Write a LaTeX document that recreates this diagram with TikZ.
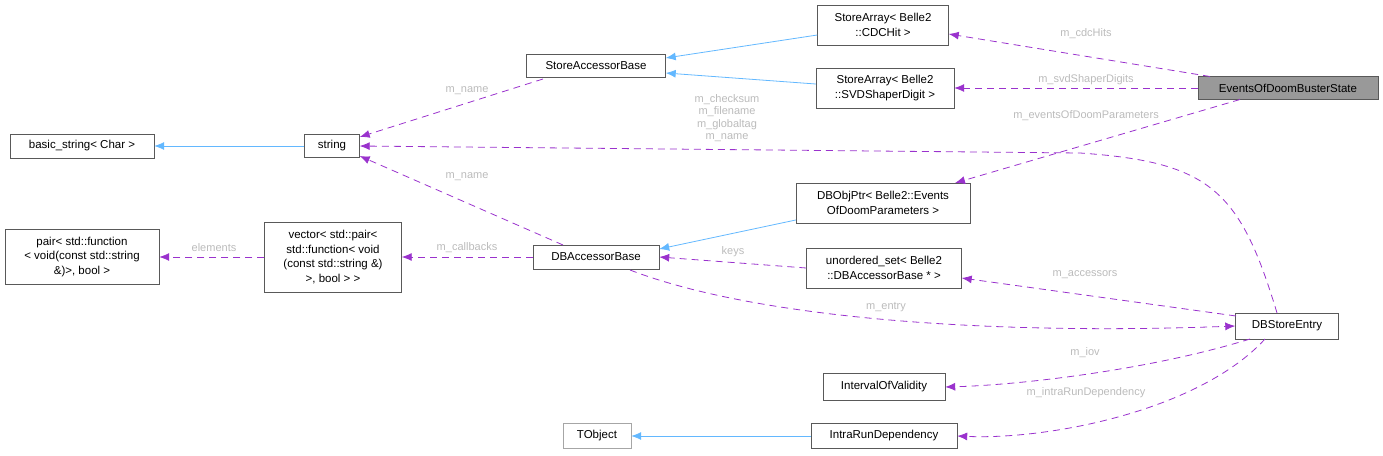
\documentclass[tikz,border=0pt]{standalone}
\usepackage{fontspec}
\setmainfont{Liberation Sans}
\usetikzlibrary{arrows.meta}
\definecolor{dep}{HTML}{9A32CD}
\definecolor{inh}{HTML}{63B8FF}
\definecolor{lbl}{HTML}{BBBBBB}
\begin{document}
\begin{tikzpicture}[x=1pt,y=-1pt,
  box/.style={draw=black!65,fill=white,inner sep=0pt,align=center,font=\fontsize{11.5}{14.5}\selectfont},
  dep/.style={draw=dep,dash pattern=on 7pt off 5pt,-{Latex[length=10pt,width=8pt]},line width=0.8pt},
  inh/.style={draw=inh,-{Latex[length=10pt,width=8pt]},line width=0.8pt},
  lab/.style={text=lbl,font=\fontsize{11}{12.5}\selectfont,inner sep=1pt,align=center}]
\useasboundingbox (0,0) rectangle (1383,455);
\node[box,minimum width=180,minimum height=23,fill=black!40] (ev) at (1288,88) {EventsOfDoomBusterState};
\node[box,minimum width=131,minimum height=40] (cdc) at (883,25) {StoreArray< Belle2\\::CDCHit >};
\node[box,minimum width=138,minimum height=40] (svd) at (885,88) {StoreArray< Belle2\\::SVDShaperDigit >};
\node[box,minimum width=139,minimum height=23] (sab) at (596,66) {StoreAccessorBase};
\node[box,minimum width=55,minimum height=23] (str) at (332,146) {string};
\node[box,minimum width=144,minimum height=24] (bs) at (82,146) {basic\_string< Char >};
\node[box,minimum width=174,minimum height=40] (dbo) at (883,203) {DBObjPtr< Belle2::Events\\OfDoomParameters >};
\node[box,minimum width=155,minimum height=40] (us) at (884,268) {unordered\_set< Belle2\\::DBAccessorBase * >};
\node[box,minimum width=126,minimum height=24] (dab) at (596,257) {DBAccessorBase};
\node[box,minimum width=137,minimum height=70] (vec) at (333,257) {vector< std::pair<\\std::function< void\\(const std::string \&)\\>, bool > >};
\node[box,minimum width=154,minimum height=55] (pair) at (82,257) {pair< std::function\\< void(const std::string\\\&)>, bool >};
\node[box,minimum width=103,minimum height=26] (dse) at (1287,326) {DBStoreEntry};
\node[box,minimum width=122,minimum height=27] (iov) at (884,387) {IntervalOfValidity};
\node[box,minimum width=146,minimum height=25] (ird) at (884,436) {IntraRunDependency};
\node[box,draw=black!35,minimum width=68,minimum height=25] (tob) at (597,436) {TObject};

\draw[inh] (cdc.west |- 0,35) -- (sab.east |- 0,58);
\draw[inh] (svd.west |- 0,84) -- (sab.east |- 0,73);
\draw[inh] (str) -- (bs);
\draw[inh] (dbo.west |- 0,220) -- (dab.east |- 0,249);
\draw[inh] (ird) -- (tob);

\coordinate (e1) at (1210,76.5);
\coordinate (e3) at (1240,99.5);
\coordinate (d3) at (955,183);
\draw[dep] (e1) -- (cdc.east |- 0,34);
\node[lab] at (1086,34) {m\_cdcHits};
\draw[dep] (ev.west) -- (svd.east);
\node[lab] at (1086,80) {m\_svdShaperDigits};
\draw[dep] (e3) -- (d3);
\node[lab] at (1086,116) {m\_eventsOfDoomParameters};
\coordinate (s1) at (543,79);
\draw[dep] (s1) -- (str.north east |- 0,137);
\node[lab] at (467,91) {m\_name};
\coordinate (d1) at (563,245);
\draw[dep] (d1) -- (str.south east |- 0,156);
\node[lab] at (467,177) {m\_name};
\coordinate (t1) at (1277,313);
\draw[dep] (t1) .. controls (1240,190) and (1210,162) .. (1080,153) -- (str.east);
\node[lab] (lst) at (727,118) {m\_checksum\\m\_filename\\m\_globaltag\\m\_name};
\draw[dep] (vec.west) -- (pair.east);
\node[lab] at (214,248) {elements};
\draw[dep] (dab.west) -- (vec.east);
\node[lab] at (467,248) {m\_callbacks};
\draw[dep] (us.west) -- (dab.east);
\node[lab] at (733,252) {keys};
\coordinate (t2) at (1236,316);
\draw[dep] (t2) -- (us.east |- 0,278);
\node[lab] at (1085,275) {m\_accessors};
\coordinate (d2) at (630,270);
\draw[dep] (d2) .. controls (760,320) and (1000,335) .. (dse.west);
\node[lab] at (886,307) {m\_entry};
\coordinate (t3) at (1250,339);
\draw[dep] (t3) .. controls (1150,370) and (1020,385) .. (iov.east);
\node[lab] at (1085,353) {m\_iov};
\coordinate (t4) at (1265,339);
\draw[dep] (t4) .. controls (1200,410) and (1050,440) .. (ird.east);
\node[lab] at (1086,393) {m\_intraRunDependency};
\end{tikzpicture}
\end{document}
